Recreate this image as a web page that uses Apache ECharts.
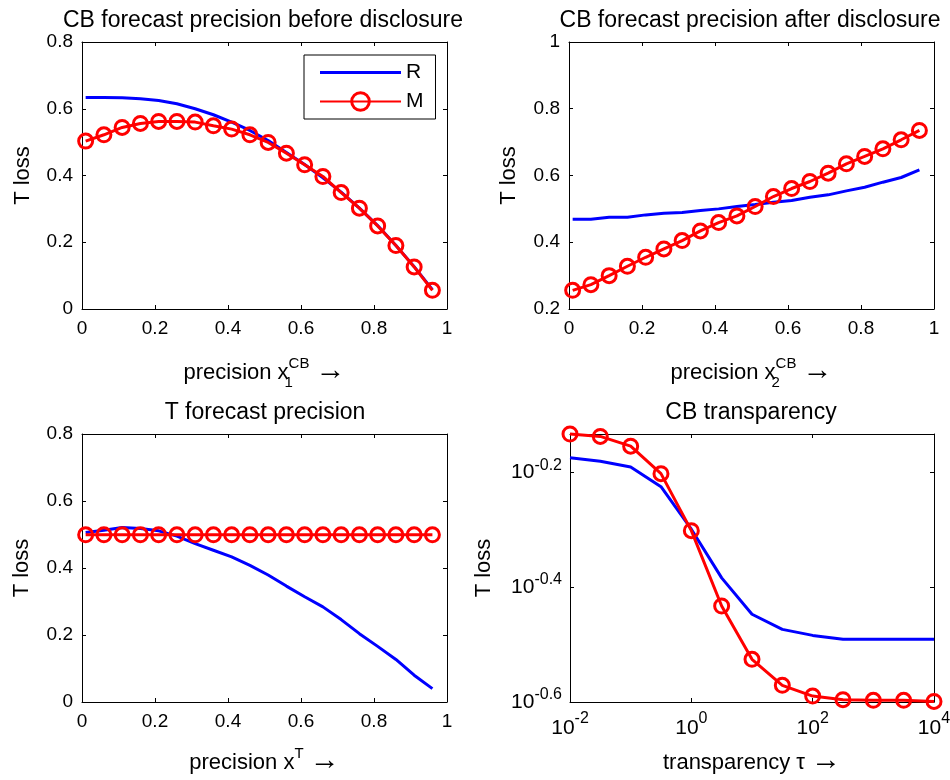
<!DOCTYPE html>
<html><head><meta charset="utf-8">
<script src="https://cdn.jsdelivr.net/npm/echarts@6/dist/echarts.min.js"></script>
<style>html,body{margin:0;padding:0;background:#fff}#c{width:950px;height:780px}</style>
</head><body><div id="c"></div>
<script>
// ---------------- data ----------------
const panelTitles = ['CB forecast precision before disclosure', 'CB forecast precision after disclosure', 'T forecast precision', 'CB transparency'];
const seriesNames = ['R', 'M'];
const precisionX = [0.01,0.06,0.11,0.16,0.21,0.26,0.31,0.36,0.41,0.46,0.51,0.56,0.61,0.66,0.71,0.76,0.81,0.86,0.91,0.96];
const beforeR = [0.634,0.634,0.633,0.630,0.625,0.615,0.600,0.582,0.560,0.535,0.505,0.469,0.433,0.393,0.350,0.302,0.250,0.190,0.127,0.058];
const beforeM = [0.503,0.522,0.544,0.556,0.562,0.562,0.560,0.549,0.539,0.522,0.499,0.467,0.432,0.397,0.349,0.302,0.249,0.190,0.126,0.056];
const afterR = [0.469,0.469,0.475,0.475,0.482,0.487,0.489,0.495,0.500,0.507,0.513,0.520,0.525,0.535,0.542,0.554,0.565,0.580,0.594,0.617];
const afterM = [0.256,0.273,0.300,0.328,0.355,0.380,0.405,0.434,0.459,0.479,0.507,0.537,0.561,0.582,0.607,0.635,0.657,0.680,0.707,0.735];
const tPrecR = [0.506,0.513,0.521,0.518,0.511,0.495,0.473,0.453,0.433,0.408,0.379,0.346,0.314,0.284,0.246,0.204,0.166,0.127,0.080,0.040];
const tPrecM = [0.499,0.499,0.499,0.499,0.499,0.499,0.499,0.499,0.499,0.499,0.499,0.499,0.499,0.499,0.499,0.499,0.499,0.499,0.499,0.499];
const tauX = [0.01,0.0316,0.1,0.316,1,3.16,10,31.6,100,316,1000,3162,10000];
const transR = [0.668,0.659,0.644,0.595,0.502,0.413,0.357,0.336,0.328,0.323,0.323,0.323,0.323];
const transM = [0.735,0.728,0.700,0.627,0.499,0.369,0.298,0.2685,0.2572,0.2535,0.2529,0.2529,0.2518];
const xNames = ['precision x{sub|1}{sup|CB} {arr|\u2192}', 'precision x{sub|2}{sup|CB} {arr|\u2192}', 'precision x{sup|T} {arr|\u2192}', 'transparency \u03c4 {arr|\u2192}'];
const yName = 'T loss';

// ---------------- chart ----------------
const F = '"Liberation Sans", Arial, Helvetica, sans-serif';
const grids = [
  {left: 82, top: 42, width: 365, height: 267},
  {left: 569, top: 42, width: 365, height: 267},
  {left: 82, top: 434, width: 365, height: 268},
  {left: 570, top: 434, width: 364, height: 268}
];
const supStyle = {fontSize: 15, fontFamily: F, color: '#000', verticalAlign: 'top', lineHeight: 15};
const subStyle = {fontSize: 15, fontFamily: F, color: '#000', verticalAlign: 'bottom', lineHeight: 15, width: 0};
const arrStyle = {fontSize: 30, fontFamily: F, color: '#000', lineHeight: 30, verticalAlign: 'top', padding: [0, 0, 0, 0]};
const xNameStyle = {fontSize: 22, fontFamily: F, color: '#000', lineHeight: 34, rich: {sup: supStyle, sub: subStyle, arr: arrStyle}};
const yNameStyle = {fontSize: 22, fontFamily: F, color: '#000'};

function logLabel(v) {
  const e = Math.log10(v);
  const k = Math.round(e / 0.2);
  if (Math.abs(e - k * 0.2) > 0.01) return '';
  let r = Math.round(e * 10) / 10;
  if (Math.abs(r) < 1e-9) r = 0;
  return '10{sup|' + r + '}';
}

function axisPair(dim, gi, scale, name, nameGap, isLog) {
  const main = Object.assign({
    gridIndex: gi,
    position: dim === 'x' ? 'bottom' : 'left',
    axisLine: {show: true, onZero: false, lineStyle: {color: '#000', width: 1}},
    axisTick: {show: true, inside: true, length: 4, lineStyle: {color: '#000', width: 1}},
    axisLabel: {show: true, color: '#000', fontSize: 19, fontFamily: F, margin: dim === 'x' ? 10 : 9},
    splitLine: {show: false},
    name: name,
    nameLocation: 'middle',
    nameGap: nameGap,
    nameMoveOverlap: false,
    nameTextStyle: dim === 'x' ? xNameStyle : yNameStyle
  }, scale);
  if (isLog) {
    main.axisLabel = Object.assign({}, main.axisLabel, {
      formatter: logLabel,
      fontSize: 21, lineHeight: dim === 'x' ? 34 : 30,
      margin: dim === 'x' ? 9 : 8,
      rich: {sup: {fontSize: 16, fontFamily: F, color: '#000', verticalAlign: 'top', lineHeight: 16}}
    });
    main.minorTick = {show: false};
  }
  const mirror = Object.assign({}, main, {
    position: dim === 'x' ? 'top' : 'right',
    axisLabel: {show: false},
    name: ''
  });
  return [main, mirror];
}

const linX = {type: 'value', min: 0, max: 1, interval: 0.2};
const xAxis = [].concat(
  axisPair('x', 0, linX, xNames[0], 47, false),
  axisPair('x', 1, linX, xNames[1], 47, false),
  axisPair('x', 2, linX, xNames[2], 44, false),
  axisPair('x', 3, {type: 'log', logBase: 10, min: 0.01, max: 10000, interval: 2}, xNames[3], 44, true)
);
const yAxis = [].concat(
  axisPair('y', 0, {type: 'value', min: 0, max: 0.8, interval: 0.2}, yName, 48, false),
  axisPair('y', 1, {type: 'value', min: 0.2, max: 1, interval: 0.2}, yName, 49, false),
  axisPair('y', 2, {type: 'value', min: 0, max: 0.8, interval: 0.2}, yName, 49, false),
  axisPair('y', 3, {type: 'log', logBase: 10, min: Math.pow(10, -0.6), max: 0.735, interval: 0.2}, yName, 75, true)
);

const panelData = [
  [precisionX, beforeR, beforeM],
  [precisionX, afterR, afterM],
  [precisionX, tPrecR, tPrecM],
  [tauX, transR, transM]
];
const series = [];
panelData.forEach(function (p, gi) {
  const xs = p[0];
  series.push({
    name: seriesNames[0], type: 'line', xAxisIndex: gi * 2, yAxisIndex: gi * 2,
    data: xs.map(function (x, i) { return [x, p[1][i]]; }),
    symbol: 'none', clip: false, silent: true, animation: false,
    lineStyle: {color: '#0000ff', width: 3}, itemStyle: {color: '#0000ff'}
  });
  series.push({
    name: seriesNames[1], type: 'line', xAxisIndex: gi * 2, yAxisIndex: gi * 2,
    data: xs.map(function (x, i) { return [x, p[2][i]]; }),
    symbol: 'circle', symbolSize: 14, showSymbol: true, clip: false, silent: true, animation: false,
    lineStyle: {color: '#ff0000', width: 3},
    itemStyle: {color: 'rgba(255,255,255,0)', borderColor: '#ff0000', borderWidth: 3}
  });
});

const titleCenters = [263, 750, 265, 751];
const titleTops = [9, 9, 401, 401];
const title = panelTitles.map(function (t, i) {
  return {text: t, left: titleCenters[i], top: titleTops[i], textAlign: 'center', padding: 0,
    textStyle: {fontSize: 23, fontWeight: 'normal', fontFamily: F, color: '#000'}};
});

const chart = echarts.init(document.getElementById('c'), null, {renderer: 'canvas'});
chart.setOption({
  animation: false,
  backgroundColor: '#fff',
  title: title,
  grid: grids.map(function (g) { return Object.assign({containLabel: false, outerBoundsMode: 'none'}, g); }),
  xAxis: xAxis,
  yAxis: yAxis,
  legend: {
    orient: 'vertical', left: 304, top: 55, padding: [7, 12, 7, 15],
    itemGap: 8, itemWidth: 81, itemHeight: 22,
    borderColor: '#000', borderWidth: 1, backgroundColor: '#fff',
    textStyle: {fontSize: 21, fontFamily: F, color: '#000'},
    itemStyle: {borderWidth: 3},
    data: [
      {name: 'R', icon: 'path://M0 0H81V3H0Z', itemStyle: {color: '#0000ff', borderWidth: 0}},
      {name: 'M'}
    ]
  },
  series: series
});
</script></body></html>
